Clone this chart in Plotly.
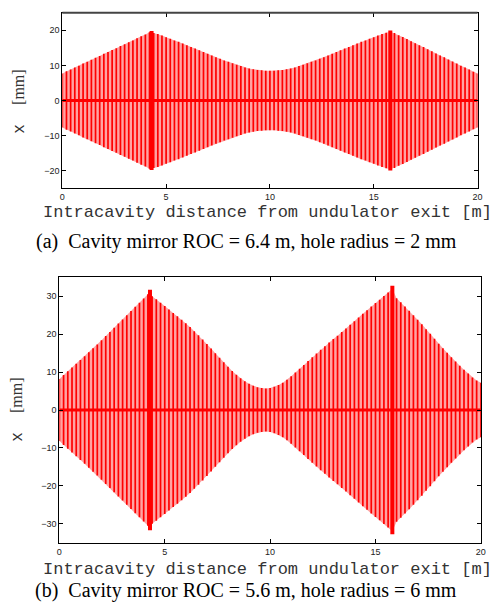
import plotly.graph_objects as go

W, H = 495, 602

# sample positions along the cavity [m]
z = [round(0.2 * i, 1) for i in range(101)]

# panel (a): beam half-width envelope [mm]
env_a = [7.7, 8.3, 8.8, 9.4, 9.9, 10.5, 11.0, 11.6, 12.2, 12.7,
         13.3, 13.8, 14.4, 14.9, 15.5, 16.0, 16.6, 17.1, 17.7, 18.3,
         18.8, 19.4, 19.2, 18.9, 18.5, 18.0, 17.6, 17.1, 16.7, 16.2,
         15.7, 15.2, 14.8, 14.3, 13.8, 13.3, 12.8, 12.3, 11.9, 11.4,
         11.0, 10.6, 10.2, 9.8, 9.4, 9.1, 8.9, 8.7, 8.6, 8.5,
         8.5, 8.5, 8.6, 8.7, 8.9, 9.1, 9.4, 9.8, 10.2, 10.6,
         11.0, 11.4, 11.9, 12.3, 12.8, 13.3, 13.8, 14.3, 14.8, 15.2,
         15.7, 16.2, 16.7, 17.1, 17.6, 18.0, 18.5, 18.9, 19.3, 19.6,
         19.2, 18.6, 18.1, 17.5, 16.9, 16.3, 15.7, 15.2, 14.6, 14.0,
         13.4, 12.8, 12.3, 11.7, 11.1, 10.5, 9.9, 9.4, 8.8, 8.2, 7.7]

# panel (b): beam half-width envelope [mm]
env_b = [8.2, 9.2, 10.2, 11.2, 12.2, 13.2, 14.2, 15.2, 16.3, 17.3,
         18.4, 19.5, 20.6, 21.7, 22.8, 23.9, 25.0, 26.1, 27.2, 28.3,
         29.4, 30.5, 30.0, 29.2, 28.3, 27.4, 26.5, 25.6, 24.7, 23.8,
         22.9, 21.9, 20.8, 19.7, 18.6, 17.4, 16.2, 15.0, 13.8, 12.6,
         11.4, 10.3, 9.3, 8.4, 7.6, 6.9, 6.4, 6.0, 5.8, 5.7,
         5.8, 6.1, 6.6, 7.2, 8.0, 8.9, 9.9, 10.9, 11.9, 12.9,
         13.9, 14.9, 15.9, 16.8, 17.8, 18.7, 19.6, 20.6, 21.5, 22.5,
         23.4, 24.4, 25.4, 26.3, 27.3, 28.2, 29.1, 30.1, 31.0, 32.0,
         29.5, 28.4, 27.3, 26.2, 25.0, 23.8, 22.6, 21.3, 20.1, 18.8,
         17.5, 16.3, 15.1, 13.9, 12.8, 11.7, 10.6, 9.6, 8.6, 7.8, 7.2]

# mirror-hole peaks (thick lines)
peak_z_a = [4.3, 15.8]
peak_env_a = [19.8, 19.9]
peak_z_b = [4.3, 15.8]
peak_env_b = [31.7, 32.8]

axis_z = [0, 20]
axis_x = [0, 0]

x_ticks = [0, 5, 10, 15, 20]
y_ticks_a = [-20, -10, 0, 10, 20]
y_ticks_b = [-30, -20, -10, 0, 10, 20, 30]

RED = "#ff0000"
PINK = "#ffa3a3"

fig = go.Figure()


def add_panel(env, pz, pe, xa, ya):
    fig.add_trace(go.Scatter(
        x=z + z[::-1], y=env + [-e for e in env[::-1]],
        fill="toself", fillcolor=PINK, line=dict(width=0),
        mode="lines", hoverinfo="skip", xaxis=xa, yaxis=ya))
    xs, ys = [], []
    for zi, ei in zip(z, env):
        xs += [zi, zi, None]
        ys += [-ei, ei, None]
    fig.add_trace(go.Scatter(x=xs, y=ys, mode="lines",
                             line=dict(color=RED, width=1.7),
                             xaxis=xa, yaxis=ya))
    fig.add_trace(go.Scatter(x=axis_z, y=axis_x, mode="lines",
                             line=dict(color=RED, width=3),
                             xaxis=xa, yaxis=ya))
    px, py = [], []
    for zi, ei in zip(pz, pe):
        px += [zi, zi, None]
        py += [-ei, ei, None]
    fig.add_trace(go.Scatter(x=px, y=py, mode="lines",
                             line=dict(color=RED, width=4),
                             xaxis=xa, yaxis=ya))


add_panel(env_a, peak_z_a, peak_env_a, "x", "y")
add_panel(env_b, peak_z_b, peak_env_b, "x2", "y2")

tickfont = dict(family="Liberation Sans, Arial", size=9, color="#222")
common = dict(showgrid=False, zeroline=False, showline=True, linecolor="black",
              linewidth=1, mirror="allticks", ticks="inside", ticklen=4,
              tickcolor="black", tickfont=tickfont)

fig.update_layout(
    width=W, height=H, showlegend=False,
    margin=dict(l=0, r=0, t=0, b=0),
    paper_bgcolor="white", plot_bgcolor="white",
    xaxis=dict(domain=[60.3 / W, 482.3 / W], range=[0, 20], tickvals=x_ticks,
               anchor="y", **common),
    yaxis=dict(domain=[1 - 188.3 / H, 1 - 12.7 / H], range=[-25, 25],
               tickvals=y_ticks_a, anchor="x", **common),
    xaxis2=dict(domain=[57.3 / W, 485.7 / W], range=[0, 20], tickvals=x_ticks,
                anchor="y2", **common),
    yaxis2=dict(domain=[1 - 542.7 / H, 1 - 277.3 / H], range=[-35, 35],
                tickvals=y_ticks_b, anchor="x2", **common),
)

# slightly heavier grey top frame of panel (a)
fig.add_shape(type="line", xref="x domain", yref="y domain", x0=0, x1=1, y0=1, y1=1,
              line=dict(color="#444", width=2))

mono = dict(family="Liberation Mono, Courier New, monospace", size=17, color="#333")
serif = dict(family="Liberation Serif, Times New Roman, serif", size=20, color="black")
ytitle = "x  <span style='font-family:Liberation Serif'>[mm]</span>"

annots = [
    dict(text="Intracavity distance from undulator exit [m]", x=268.5, y=213, font=mono, textangle=0),
    dict(text="Intracavity distance from undulator exit [m]", x=269, y=569, font=mono, textangle=0),
    dict(text=ytitle, x=16, y=102, font=dict(family=mono["family"], size=16, color="#333"), textangle=-90),
    dict(text=ytitle, x=14, y=410, font=dict(family=mono["family"], size=16, color="#333"), textangle=-90),
    dict(text="(a)  Cavity mirror ROC = 6.4 m, hole radius = 2 mm", x=247, y=241, font=serif, textangle=0),
    dict(text="(b)  Cavity mirror ROC = 5.6 m, hole radius = 6 mm", x=247, y=590, font=serif, textangle=0),
]
for a in annots:
    fig.add_annotation(text=a["text"], x=a["x"] / W, y=1 - a["y"] / H,
                       xref="paper", yref="paper", showarrow=False,
                       xanchor="center", yanchor="middle",
                       font=a["font"], textangle=a["textangle"])

fig.write_html("out.html", config={"displayModeBar": False},
               post_script="document.body.style.margin='0px';document.body.style.overflow='hidden';")
